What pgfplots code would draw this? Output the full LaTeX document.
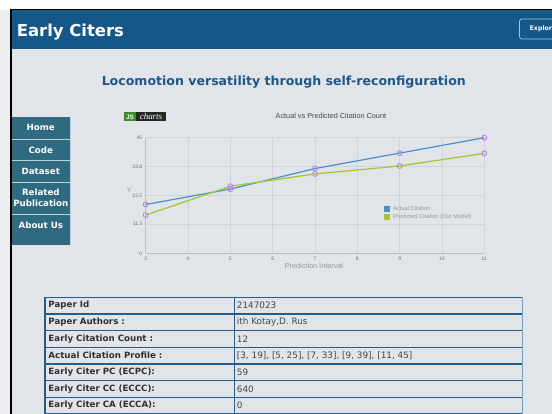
\documentclass[border=0pt]{standalone}
\usepackage{pgfplots}
\pgfplotsset{compat=1.18}
\usepackage{fontspec}
\setmainfont{DejaVu Sans}
\newfontfamily\chartfont{Liberation Sans}
\newfontfamily\logofont{Liberation Serif}
\definecolor{bodybg}{RGB}{225,229,234}
\definecolor{stripc}{RGB}{236,238,240}
\definecolor{headerc}{RGB}{22,87,137}
\definecolor{btnc}{RGB}{170,195,220}
\definecolor{titlec}{RGB}{28,88,138}
\definecolor{navc}{RGB}{47,106,128}
\definecolor{navsep}{RGB}{190,210,220}
\definecolor{tborder}{RGB}{40,92,140}
\definecolor{tdark}{RGB}{50,46,46}
\definecolor{tval}{RGB}{70,70,70}
\definecolor{actualc}{RGB}{74,144,200}
\definecolor{predc}{RGB}{160,200,40}
\definecolor{markc}{RGB}{190,130,240}
\definecolor{gridc}{RGB}{208,212,218}
\definecolor{axisc}{RGB}{185,190,195}
\definecolor{tickc}{RGB}{110,110,110}
\definecolor{labelc}{RGB}{150,150,150}
\definecolor{ctitle}{RGB}{70,70,70}
\definecolor{jsgreen}{RGB}{60,140,40}
\newcommand{\fs}[1]{\fontsize{#1}{#1}\selectfont}
\begin{document}
\begin{tikzpicture}
\useasboundingbox (0,0) rectangle (552bp,-414bp);
\clip (0,0) rectangle (552bp,-414bp);
\begin{scope}[x=1bp,y=-1bp]
\fill[white] (0,0) rectangle (552,10);
\fill[stripc] (0,10) rectangle (10,414);
\fill[bodybg] (11,10) rectangle (552,414);
\fill[black] (10,9) rectangle (552,10.2);
\fill[black] (10,9) rectangle (11.5,414);
\fill[headerc] (11.5,10.2) rectangle (552,49.3);
\node[anchor=base west, text=white, inner sep=0, font=\bfseries\fs{16.5}] at (16.7,36.7) {Early Citers};
\draw[btnc, line width=0.8bp, rounded corners=2.5bp] (519.5,19) rectangle (565,39);
\node[anchor=west, inner sep=0, text=white, font=\bfseries\fs{6.3}] at (529.5,29) {Explor};
\node[text=titlec, font=\bfseries\fs{12.6}, inner sep=0] at (283.8,81.7) {Locomotion versatility through self-reconfiguration};
% navigation
\fill[navc] (11.7,117.3) rectangle (70,245);
\foreach \yy in {139,160.7,182.3,214.3} \draw[navsep, line width=0.8bp] (11.7,\yy) -- (70,\yy);
\draw[navsep, line width=0.6bp] (70,117.3) -- (70,245);
\begin{scope}[every node/.style={text=white, font=\bfseries\fs{8.7}, inner sep=0}]
\node at (40.8,127.6) {Home};
\node at (40.8,149.8) {Code};
\node at (40.8,171.4) {Dataset};
\node at (40.8,192.7) {Related};
\node at (40.8,203.3) {Publication};
\node at (40.8,225.7) {About Us};
\end{scope}
% JS charts logo
\fill[jsgreen] (124,112.3) rectangle (136,121.3);
\fill[black!85] (136,112.3) rectangle (166,121.3);
\node[text=white, font=\chartfont\bfseries\fs{6.5}, inner sep=0] at (130,116.8) {JS};
\node[text=white, font=\logofont\itshape\fs{9}, inner sep=0] at (151,116.6) {charts};
% table
\foreach \k in {0,...,7} {
  \pgfmathsetmacro\yy{297.3+16.667*\k}
  \draw[tborder, line width=1.3bp] (45,\yy) -- (522.3,\yy);
}
\draw[tborder, line width=1.3bp] (45,297.3) -- (45,420);
\draw[tborder, line width=1.3bp] (234.3,297.3) -- (234.3,420);
\draw[tborder!60, line width=1.6bp] (522.3,297.3) -- (522.3,420);
\begin{scope}[every node/.style={anchor=west, inner sep=0, text=tdark, font=\bfseries\fs{8.7}}]
\node at (48.3,305.6) {Paper Id};
\node at (48.3,322.3) {Paper Authors :};
\node at (48.3,339.0) {Early Citation Count :};
\node at (48.3,355.6) {Actual Citation Profile :};
\node at (48.3,372.3) {Early Citer PC (ECPC):};
\node at (48.3,389.0) {Early Citer CC (ECCC):};
\node at (48.3,405.6) {Early Citer CA (ECCA):};
\end{scope}
\begin{scope}[every node/.style={anchor=west, inner sep=0, text=tval, font=\fs{8.9}}]
\node at (236.7,305.6) {2147023};
\node at (236.7,322.3) {ith Kotay,D. Rus};
\node at (236.7,339.0) {12};
\node at (236.7,355.6) {[3, 19], [5, 25], [7, 33], [9, 39], [11, 45]};
\node at (236.7,372.3) {59};
\node at (236.7,389.0) {640};
\node at (236.7,405.6) {0};
\end{scope}
\end{scope}
\begin{axis}[
  at={(145.7bp,-253.3bp)}, anchor=south west,
  scale only axis, width=338.6bp, height=115.6bp,
  xmin=3, xmax=11, ymin=0, ymax=45,
  xtick={3,4,...,11}, ytick={0,11.3,22.5,33.8,45},
  yticklabels={0,11.3,22.5,33.8,45},
  axis x line*=bottom, axis y line*=left,
  axis line style={draw=axisc, line width=1.2bp},
  grid=major, major grid style={draw=gridc, line width=0.5bp},
  major tick length=0pt,
  tick style={draw=none},
  ticklabel style={font=\chartfont\fs{5}, text=tickc},
  /pgf/number format/assume math mode=true,
  title={Actual vs Predicted Citation Count},
  title style={at={(axis description cs:0.547,1.136)}, anchor=center, font=\chartfont\fs{7.3}, text=ctitle, inner sep=0},
  xlabel={Prediction Interval},
  xlabel style={at={(axis description cs:0.497,-0.107)}, anchor=center, font=\chartfont\fs{7.3}, text=labelc, inner sep=0},
  ylabel={Y},
  ylabel style={at={(axis description cs:-0.049,0.548)}, rotate=-90, anchor=center, font=\chartfont\fs{7}, text=labelc, inner sep=0},
  legend style={at={(axis description cs:0.704,0.415)}, anchor=north west, draw=none, fill=none, font=\chartfont\fs{5.8}, text=labelc, inner sep=0, row sep=1.6bp, nodes={inner sep=0.4bp},
    /tikz/every odd column/.append style={column sep=2.6bp}},
  legend cell align=left,
  clip=false,
]
\addplot[actualc, line width=1.2bp, mark=o, mark size=2.5bp, mark options={draw=markc, line width=0.9bp, fill=none},
  legend image code/.code={\fill[actualc] (0bp,-2.3bp) rectangle (4.6bp,2.3bp);}]
  coordinates {(3,19) (5,25) (7,33) (9,39) (11,45)};
\addlegendentry{Actual Citation}
\addplot[predc, line width=1.2bp, mark=o, mark size=2.5bp, mark options={draw=markc, line width=0.9bp, fill=none},
  legend image code/.code={\fill[predc] (0bp,-2.3bp) rectangle (4.6bp,2.3bp);}]
  coordinates {(3,14.9) (5,26.1) (7,30.9) (9,34.0) (11,38.9)};
\addlegendentry{Predicted Citation (Our Model)}
\end{axis}
\end{tikzpicture}
\end{document}
